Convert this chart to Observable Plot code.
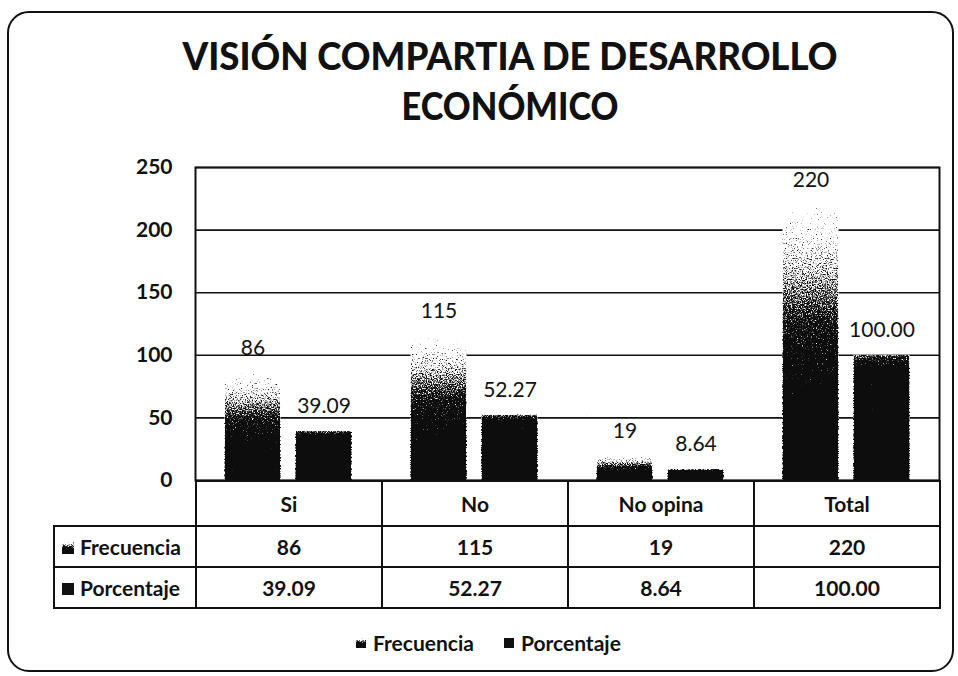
<!DOCTYPE html>
<html>
<head>
<meta charset="utf-8">
<script src="https://cdn.jsdelivr.net/npm/d3@7"></script>
<script src="https://cdn.jsdelivr.net/npm/@observablehq/plot@0.6"></script>
<style>
  html, body { margin: 0; padding: 0; background: #fff; }
  #wrap { position: relative; width: 958px; height: 676px; overflow: hidden; background: #fff;
          font-family: Lato, "Open Sans", "Noto Sans", sans-serif; color: #111; }
  #border { position: absolute; left: 7px; top: 11px; width: 947px; height: 661px; box-sizing: border-box;
            border: 2px solid #111; border-radius: 22px; }
  #title { position: absolute; left: 0; top: 0; }
  #chart { position: absolute; left: 0; top: 147px; }
  #chart svg { background: transparent; overflow: visible; }
  #chart g[aria-label="y-axis tick label"] text { font-weight: 700; }
  #dt { position: absolute; left: 53px; top: 480px; border-collapse: collapse; table-layout: fixed;
        font-size: 21px; font-weight: 700; }
  #dt td { border: 2px solid #111; text-align: center; padding: 0; white-space: nowrap; }
  #dt tr.h td { height: 43px; }
  #dt tr.r td { height: 39px; }
  #dt td.corner { border-left: none; border-top: none; }
  #dt td.lab { text-align: left; padding-left: 7px; }
  .mk { display: inline-block; vertical-align: middle; margin-right: 6px; position: relative; top: -2px; }
  #legend { position: absolute; left: 356px; top: 631px; font-size: 21px; font-weight: 700; line-height: 24px;
            display: flex; align-items: center; }
  #legend .it { display: flex; align-items: center; }
  #legend .it + .it { margin-left: 30px; }
  #legend .mk { margin-right: 7px; top: 0; }
</style>
</head>
<body>
<div id="wrap">
  <div id="border"></div>
  <div id="chart"></div>
</div>
<script>
// ---- data ----
const categories = ["Si", "No", "No opina", "Total"];
const frecuencia = [86, 115, 19, 220];
const porcentaje = [39.09, 52.27, 8.64, 100.00];
const seriesNames = ["Frecuencia", "Porcentaje"];
const yTicks = [0, 50, 100, 150, 200, 250];
const titleLines = ["VISIÓN COMPARTIA DE DESARROLLO", "ECONÓMICO"];

const rows = categories.map((c, i) => ({categoria: c, frecuencia: frecuencia[i], porcentaje: porcentaje[i]}));
const fmtF = d3.format("d");
const fmtP = d3.format(".2f");

// ---- title ----
const wrap = d3.select("#wrap");
const tsvg = wrap.append("svg").attr("id", "title").attr("width", 958).attr("height", 140);
const titleGeom = [{y: 70, len: 655}, {y: 120, len: 217}];
tsvg.selectAll("text").data(titleLines).join("text")
  .attr("x", 510).attr("y", (d, i) => titleGeom[i].y)
  .attr("text-anchor", "middle")
  .attr("font-family", "Lato, 'Open Sans', sans-serif")
  .attr("font-weight", 900)
  .attr("font-size", 38)
  .attr("fill", "#111")
  .attr("textLength", (d, i) => titleGeom[i].len)
  .attr("lengthAdjust", "spacingAndGlyphs")
  .text(d => d);

// ---- chart ----
const barF = {x: "categoria", y: "frecuencia", insetLeft: 29.5, insetRight: 100.5};
const barP = {x: "categoria", y: "porcentaje", insetLeft: 100.5, insetRight: 29.5};

const chart = Plot.plot({
  width: 958, height: 335,
  marginTop: 20, marginBottom: 2, marginLeft: 195, marginRight: 19,
  style: {fontFamily: "Lato, 'Open Sans', sans-serif", color: "#111", background: "transparent", overflow: "visible"},
  x: {type: "band", domain: categories, padding: 0, axis: null},
  y: {domain: [0, 250], label: null},
  marks: [
    Plot.ruleY(yTicks, {stroke: "#111", strokeWidth: 1.6}),
    Plot.barY(rows, {...barF, fill: "white"}),
    Plot.barY(rows, {...barP, fill: "white"}),
    Plot.barY(rows, {...barF, fill: "url(#freqGrad)"}),
    Plot.barY(rows, {...barP, fill: "url(#pctGrad)"}),
    Plot.frame({stroke: "#111", strokeWidth: 2}),
    Plot.text(rows, {x: "categoria", y: "frecuencia", text: d => fmtF(d.frecuencia), dx: -35.5, dy: -25, fontSize: 21, fill: "#111"}),
    Plot.text(rows, {x: "categoria", y: "porcentaje", text: d => fmtP(d.porcentaje), dx: 35.5, dy: -25, fontSize: 21, fill: "#111"}),
    Plot.axisY({ticks: yTicks, tickSize: 0, tickPadding: 23, fontSize: 21, fontWeight: "bold", tickFormat: "d", label: null})
  ]
});

const defs = d3.select(chart).insert("defs", ":first-child");
defs.html(`
  <linearGradient id="freqGrad" x1="0" y1="0" x2="0" y2="1">
    <stop offset="0" stop-color="#000" stop-opacity="0.15"/>
    <stop offset="0.25" stop-opacity="0.42" stop-color="#000"/>
    <stop offset="0.45" stop-opacity="0.7" stop-color="#000"/>
    <stop offset="0.7" stop-opacity="0.88" stop-color="#000"/>
    <stop offset="1" stop-opacity="0.97" stop-color="#000"/>
  </linearGradient>
  <linearGradient id="pctGrad" x1="0" y1="0" x2="0" y2="1">
    <stop offset="0" stop-color="#000" stop-opacity="0.55"/>
    <stop offset="0.12" stop-color="#000" stop-opacity="0.92"/>
    <stop offset="1" stop-color="#000" stop-opacity="1"/>
  </linearGradient>
  <filter id="dither" x="0" y="0" width="1" height="1" color-interpolation-filters="sRGB">
    <feTurbulence type="fractalNoise" baseFrequency="0.8" numOctaves="2" seed="7" result="noise"/>
    <feColorMatrix in="noise" type="matrix" values="0 0 0 0 0  0 0 0 0 0  0 0 0 0 0  1 0 0 0 0" result="na"/>
    <feComposite in="SourceAlpha" in2="na" operator="arithmetic" k1="0" k2="5" k3="-5" k4="0.5" result="d"/>
    <feFlood flood-color="#0d0d0d" result="ink"/>
    <feComposite in="ink" in2="d" operator="in"/>
  </filter>
`);
d3.select(chart).selectAll('g[aria-label="bar"]').filter((d, i) => i >= 2).attr("filter", "url(#dither)");
document.getElementById("chart").appendChild(chart);

// ---- data table (columns follow the chart's x band scale) ----
const xs = chart.scale("x");
const bw = xs.bandwidth;
const firstCol = xs.apply(categories[0]) - 53;

function marker(sel, series, size) {
  const s = sel.append("svg").attr("class", "mk").attr("width", size).attr("height", size);
  s.append("rect").attr("width", size).attr("height", size)
    .attr("fill", series === seriesNames[0] ? "url(#freqGrad)" : "#111")
    .attr("filter", series === seriesNames[0] ? "url(#dither)" : null);
}

const table = wrap.append("table").attr("id", "dt");
const cg = table.append("colgroup");
cg.append("col").style("width", firstCol + "px");
categories.forEach(() => cg.append("col").style("width", bw + "px"));
const hr = table.append("tr").attr("class", "h");
hr.append("td").attr("class", "corner");
categories.forEach(c => hr.append("td").text(c));
[[seriesNames[0], frecuencia, fmtF], [seriesNames[1], porcentaje, fmtP]].forEach(([name, vals, f]) => {
  const tr = table.append("tr").attr("class", "r");
  const lab = tr.append("td").attr("class", "lab");
  marker(lab, name, 12);
  lab.append("span").text(name);
  vals.forEach(v => tr.append("td").text(f(v)));
});

// ---- legend ----
const lg = wrap.append("div").attr("id", "legend");
seriesNames.forEach(n => {
  const it = lg.append("div").attr("class", "it");
  marker(it, n, 10);
  it.append("span").text(n);
});
</script>
</body>
</html>
